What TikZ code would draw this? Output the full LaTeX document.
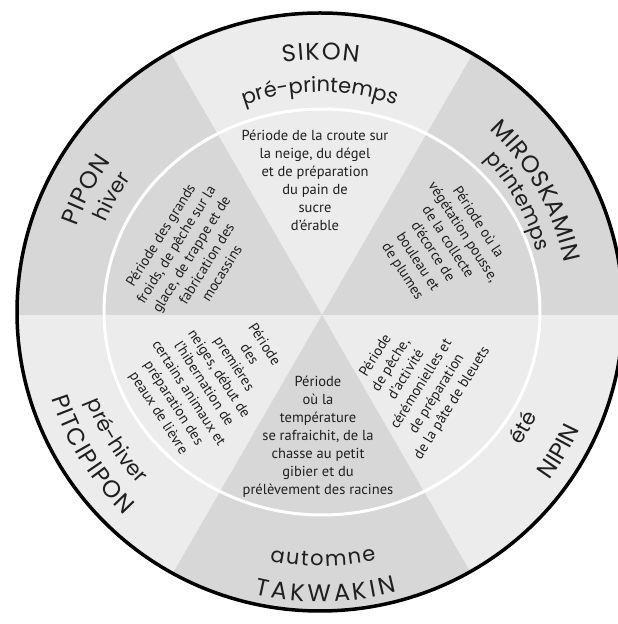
\documentclass[tikz,border=0pt]{standalone}
\usepackage{fontspec}
\setmainfont{PT Sans}
\newfontfamily\seasonfont{Poppins}
\usetikzlibrary{decorations.text}
\definecolor{lightg}{gray}{0.925}
\definecolor{darkg}{gray}{0.845}
\definecolor{ink}{gray}{0.12}
\newcommand\outlabel[5]{% font+size, radius, start, end, text
  \path[decorate, decoration={text along path, text align=center,
    text={|#1\color{ink}|#5}}]
    ([shift={(#3:#2)}]C) arc[start angle=#3, end angle=#4, radius=#2];}
\newcommand\capsz{\seasonfont\fontsize{24}{24}\selectfont}
\newcommand\lowsz{\seasonfont\fontsize{21}{21}\selectfont}
\begin{document}
\begin{tikzpicture}[x=1pt,y=1pt,
  desc/.style={font=\fontsize{14.5}{18}\selectfont, text=ink, align=center, inner sep=0pt}]
\useasboundingbox (0,0) rectangle (618,624);
\coordinate (C) at (320,312);
\coordinate (O) at (322,309);
\begin{scope}
  \clip (C) ellipse [x radius=303, y radius=299];
  \fill[lightg] (0,0) rectangle (618,624);
  \fill[darkg] (O) -- +(0:700) -- +(60:700) -- cycle;
  \fill[darkg] (O) -- +(120:700) -- +(180:700) -- cycle;
  \fill[darkg] (O) -- +(240:700) -- +(300:700) -- cycle;
\end{scope}
\draw[white, line width=3pt] (322,312) ellipse [x radius=218, y radius=203];
\draw[black, line width=3.5pt] (C) ellipse [x radius=303, y radius=299];

% season labels (top half: tops outward, clockwise)
\outlabel{\capsz\kern1.5pt}{252}{150}{30}{SIKON}
\outlabel{\lowsz}{220}{150}{30}{pré-printemps}
\outlabel{\capsz\kern0.8pt}{249}{84.4}{-25.6}{MIROSKAMIN}
\outlabel{\lowsz}{225}{84.2}{-25.8}{printemps}
\outlabel{\capsz\kern1pt}{258}{207.5}{97.5}{PIPON}
\outlabel{\lowsz}{232}{206}{96}{hiver}
% bottom half: tops inward, counterclockwise
\outlabel{\capsz\kern3.4pt}{290}{215.8}{325.8}{TAKWAKIN}
\outlabel{\lowsz\kern1.8pt}{254}{215.5}{325.5}{automne}
\outlabel{\capsz}{285}{-85.3}{24.7}{NIPIN}
\outlabel{\lowsz}{241}{-84.6}{25.4}{été}
\outlabel{\capsz\kern1.4pt}{282}{156.8}{266.8}{PITCIPIPON}
\outlabel{\lowsz}{250}{157.3}{267.3}{pré-hiver}

% descriptions
\node[desc] (top) at (315,444) {Période de la croute sur\\la neige, du dégel\\et de préparation\\du pain de\\sucre\\d’érable};
\node[desc] (bottom) at (318,187) {Période\\où la\\température\\se rafraichit, de la\\chasse au petit\\gibier et du\\prélèvement des racines};
\node[desc, rotate=58] (ul) at (191,370) {Période des grands\\froids, de pêche sur la\\glace, de trappe et de\\fabrication des\\mocassins};
\node[desc, rotate=-57] (ur) at (440,377) {Période où la\\végétation pousse,\\de la collecte\\d’écorce de\\bouleau et\\de plumes};
\node[desc, rotate=-57] (ll) at (211,245) {Période\\des\\premières\\neiges, début de\\l’hibernation de\\certains animaux et\\préparation des\\peaux de lièvre};
\node[desc, rotate=58] (lr) at (414,244.5) {Période\\de pêche,\\d’activité\\cérémonielles et\\de préparation\\de la pâte de bleuets};
\end{tikzpicture}
\end{document}
